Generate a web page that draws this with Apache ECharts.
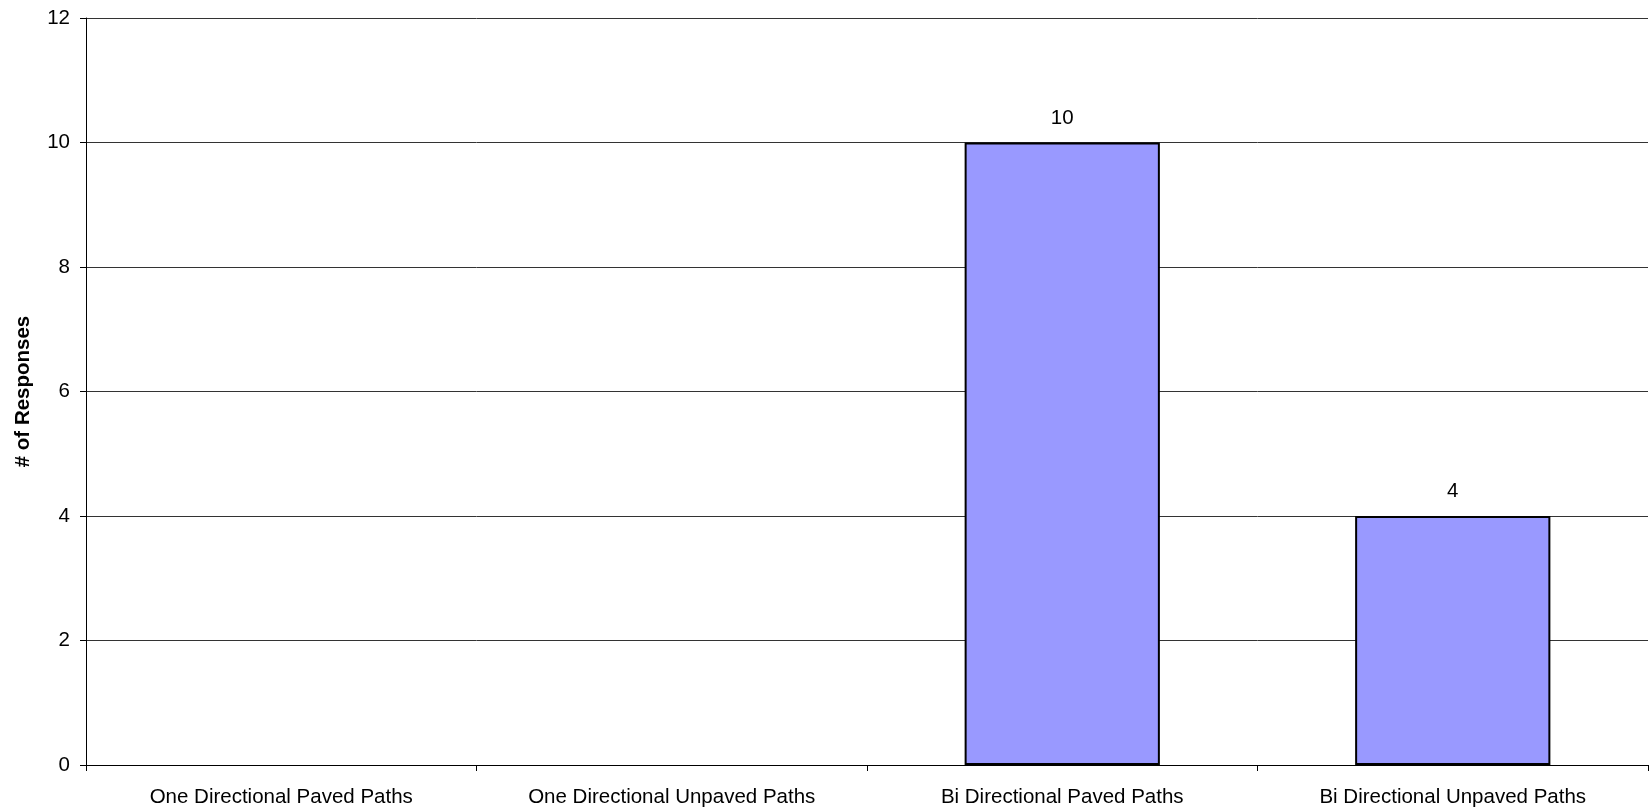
<!DOCTYPE html>
<html>
<head>
<meta charset="utf-8">
<script src="https://cdn.jsdelivr.net/npm/echarts@6/dist/echarts.min.js"></script>
<style>
    html, body { margin: 0; padding: 0; background: #fff; }
    #chart { width: 1650px; height: 812px; }
</style>
</head>
<body>
<div id="chart"></div>
<script>
// categories and values
const categories = [
    'One Directional Paved Paths',
    'One Directional Unpaved Paths',
    'Bi Directional Paved Paths',
    'Bi Directional Unpaved Paths'
]
const responses = [null, null, 10, 4]
const yTicks = { min: 0, max: 12, interval: 2 }

const chart = echarts.init(document.getElementById('chart'))
const font = 'Liberation Sans, Arial, sans-serif'

const option = {
    animation: false,
    grid: {
        left: 86,
        right: 2,
        top: 18,
        bottom: 47,
        containLabel: false,
        outerBoundsMode: 'none'
    },
    xAxis: {
        type: 'category',
        data: categories,
        axisLine: { lineStyle: { color: '#000', width: 1 } },
        axisTick: { show: true, length: 6, lineStyle: { color: '#000' } },
        axisLabel: {
            color: '#000',
            fontFamily: font,
            fontSize: 20.5,
            margin: 22
        },
        splitLine: { show: false }
    },
    yAxis: {
        type: 'value',
        min: yTicks.min,
        max: yTicks.max,
        interval: yTicks.interval,
        name: '# of Responses',
        nameLocation: 'middle',
        nameGap: 52,
        nameTextStyle: {
            color: '#000',
            fontFamily: font,
            fontSize: 20.5,
            fontWeight: 'bold'
        },
        axisLine: { show: true, lineStyle: { color: '#000', width: 1 } },
        axisTick: { show: true, length: 6, lineStyle: { color: '#000' } },
        axisLabel: {
            color: '#000',
            fontFamily: font,
            fontSize: 20.5,
            margin: 16
        },
        splitLine: { show: true, lineStyle: { color: '#333', width: 1 } }
    },
    series: [{
        type: 'bar',
        data: responses,
        barWidth: '50%',
        itemStyle: {
            color: '#9999FF',
            borderColor: '#000',
            borderWidth: 2
        },
        label: {
            show: true,
            position: 'top',
            distance: 14,
            color: '#000',
            fontFamily: font,
            fontSize: 20.5
        }
    }]
}
chart.setOption(option)
</script>
</body>
</html>
